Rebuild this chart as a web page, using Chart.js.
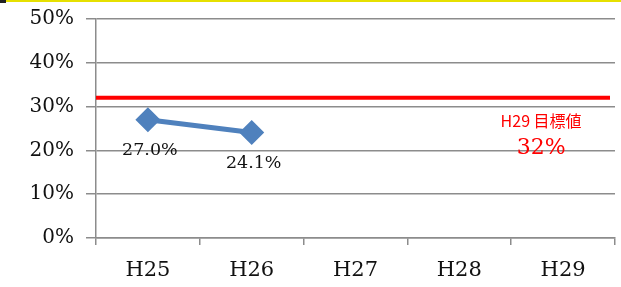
<!DOCTYPE html>
<html>
<head>
<meta charset="utf-8">
<script src="https://cdn.jsdelivr.net/npm/chart.js@4/dist/chart.umd.min.js"></script>
<style>
  html, body { margin:0; padding:0; background:#fff; }
  #wrap { position:relative; width:621px; height:287px; }
  #topline { position:absolute; left:0; top:0; width:621px; height:2px; background:#e6e000; }
  #topmark { position:absolute; left:0; top:0; width:6px; height:3px; background:#222; }
</style>
</head>
<body>
<div id="wrap">
  <canvas id="chart" width="621" height="287"></canvas>
  <div id="topline"></div>
  <div id="topmark"></div>
</div>
<script>
// data
const years = ['H25', 'H26', 'H27', 'H28', 'H29'];
const rates = [27.0, 24.1, null, null, null];
const yTicks = [0, 10, 20, 30, 40, 50];
const targetValue = 32;
const targetLabel = 'H29 目標値';

const serif = '"DejaVu Serif", "Liberation Serif", serif';
const gridGray = '#8c8c8c';

// 目標線 + ラベル
const targetPlugin = {
  id: 'target',
  afterDatasetsDraw(chart){
    const { ctx, chartArea, scales } = chart;
    const y = scales.y.getPixelForValue(targetValue);
    ctx.save();
    ctx.strokeStyle = '#ff0000';
    ctx.lineWidth = 4;
    ctx.beginPath();
    ctx.moveTo(chartArea.left, y);
    ctx.lineTo(chartArea.right - 5, y);
    ctx.stroke();

    const cx = scales.x.getPixelForValue(4) - 22;
    ctx.fillStyle = '#ff0000';
    ctx.textAlign = 'center';
    ctx.textBaseline = 'middle';
    ctx.font = '16px "Noto Sans CJK JP", sans-serif';
    ctx.fillText(targetLabel, cx, y + 23);
    ctx.font = '22px ' + serif;
    ctx.fillText(targetValue + '%', cx, y + 50);
    ctx.restore();
  }
};

// 数値ラベル (点の下)
const labelPlugin = {
  id: 'pointLabels',
  afterDatasetsDraw(chart){
    const { ctx } = chart;
    const meta = chart.getDatasetMeta(0);
    ctx.save();
    ctx.fillStyle = '#111';
    ctx.font = '17.5px ' + serif;
    ctx.textAlign = 'center';
    ctx.textBaseline = 'middle';
    meta.data.forEach((pt, i) => {
      const v = rates[i];
      if(v === null) return;
      ctx.fillText(v.toFixed(1) + '%', pt.x + 2, pt.y + 31);
    });
    ctx.restore();
  }
};

new Chart(document.getElementById('chart'), {
  type: 'line',
  data: {
    labels: years,
    datasets: [{
      data: rates,
      borderColor: '#4f81bd',
      backgroundColor: '#4f81bd',
      borderWidth: 5,
      pointStyle: 'rectRot',
      pointRadius: 9,
      pointHoverRadius: 9,
      spanGaps: false
    }]
  },
  options: {
    responsive: false,
    animation: false,
    events: [],
    layout: { autoPadding: false, padding: { top: 19, right: 6, left: 0, bottom: 0 } },
    plugins: { legend: { display: false }, tooltip: { enabled: false } },
    scales: {
      x: {
        offset: true,
        grid: { offset: true, drawOnChartArea: false, drawTicks: true, tickLength: 7, color: gridGray, lineWidth: 1.5 },
        border: { color: gridGray, width: 1.5 },
        ticks: { color: '#111', font: { family: serif, size: 21 }, padding: 13 },
        afterFit(scale){ scale.height = 49; scale.paddingLeft = 0; scale.paddingRight = 0; }
      },
      y: {
        min: 0, max: 50,
        afterBuildTicks(scale){ scale.ticks = yTicks.map(v => ({ value: v })); },
        grid: { color: gridGray, lineWidth: 1.5, tickLength: 10 },
        border: { color: gridGray, width: 1.5 },
        ticks: { color: '#111', font: { family: serif, size: 20 }, padding: 12, callback: v => v + '%' },
        afterFit(scale){ scale.width = 96; scale.paddingTop = 0; scale.paddingBottom = 0; }
      }
    }
  },
  plugins: [targetPlugin, labelPlugin]
});
</script>
</body>
</html>
